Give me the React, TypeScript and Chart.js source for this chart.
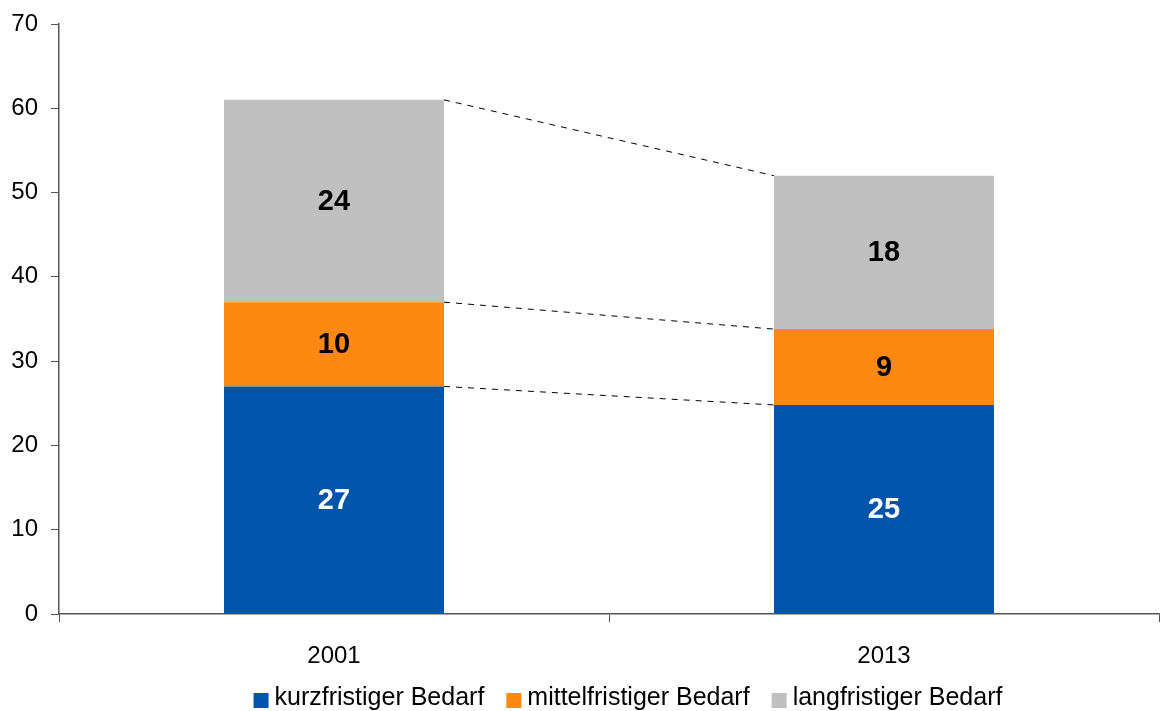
import React, { useEffect, useRef } from "react";
import { Chart, registerables } from "chart.js";

Chart.register(...registerables);

const categories = ["2001", "2013"];
const kurzfristig = [27, 24.8];
const mittelfristig = [10, 9.0];
const langfristig = [24, 18.2];
const seriesNames = ["kurzfristiger Bedarf", "mittelfristiger Bedarf", "langfristiger Bedarf"];
const seriesColors = ["#0055AA", "#FF8811", "#C0C0C0"];
const labelColors = ["#FFFFFF", "#000000", "#000000"];
const yTicks = [0, 10, 20, 30, 40, 50, 60, 70];

const FONT = "'Liberation Sans', Arial, sans-serif";

const connectorPlugin = {
  id: "connectors",
  afterDatasetsDraw(chart: any) {
    const ctx = chart.ctx;
    const n = chart.data.datasets.length;
    ctx.save();
    ctx.strokeStyle = "#000";
    ctx.lineWidth = 1;
    ctx.setLineDash([6, 6]);
    for (let d = 0; d < n; d++) {
      const meta = chart.getDatasetMeta(d);
      const a = meta.data[0];
      const b = meta.data[1];
      if (!a || !b) continue;
      ctx.beginPath();
      ctx.moveTo(a.x + a.width / 2, a.y);
      ctx.lineTo(b.x - b.width / 2, b.y);
      ctx.stroke();
    }
    ctx.setLineDash([]);
    ctx.font = `bold 29px ${FONT}`;
    ctx.textAlign = "center";
    ctx.textBaseline = "middle";
    for (let d = 0; d < n; d++) {
      const meta = chart.getDatasetMeta(d);
      const ds = chart.data.datasets[d];
      meta.data.forEach((el: any, i: number) => {
        const v = ds.data[i];
        ctx.fillStyle = labelColors[d];
        ctx.fillText(String(Math.round(v)), el.x, (el.y + el.base) / 2 + 1);
      });
    }
    ctx.restore();
  },
  afterDraw(chart: any) {
    const ctx = chart.ctx;
    ctx.save();
    ctx.font = `25px ${FONT}`;
    ctx.textBaseline = "alphabetic";
    const sq = 15;
    const gapSqText = 6;
    const gapItems = 22;
    const widths = seriesNames.map((s) => ctx.measureText(s).width);
    const total = widths.reduce((acc, w) => acc + sq + gapSqText + w, 0) + gapItems * (seriesNames.length - 1);
    let x = 628 - total / 2;
    seriesNames.forEach((s, i) => {
      ctx.fillStyle = seriesColors[i];
      ctx.fillRect(x, 693, sq, sq);
      x += sq + gapSqText;
      ctx.fillStyle = "#000";
      ctx.textAlign = "left";
      ctx.fillText(s, x, 705);
      x += widths[i] + gapItems;
    });
    ctx.restore();
  },
};

export default function App() {
  const ref = useRef<HTMLCanvasElement | null>(null);
  useEffect(() => {
    document.body.style.margin = "0";
    const canvas = ref.current!;
    const values = [kurzfristig, mittelfristig, langfristig];
    const chart = new Chart(canvas, {
      type: "bar",
      data: {
        labels: categories,
        datasets: seriesNames.map((name, i) => ({
          label: name,
          data: values[i],
          backgroundColor: seriesColors[i],
          borderWidth: 0,
          barPercentage: 0.4,
          categoryPercentage: 1,
        })),
      },
      options: {
        animation: false,
        responsive: false,
        maintainAspectRatio: false,
        layout: { padding: { top: 24, right: 1, left: 0, bottom: 0 } },
        plugins: {
          legend: { display: false },
          tooltip: { enabled: false },
        },
        scales: {
          x: {
            stacked: true,
            grid: {
              offset: true,
              drawOnChartArea: false,
              drawTicks: true,
              tickLength: 8,
              color: "#555",
              tickWidth: 1,
            },
            border: { color: "#555", width: 1.5 },
            ticks: {
              color: "#000",
              font: { family: FONT, size: 24 },
              padding: 20,
            },
            afterFit(scale: any) {
              scale.height = 97;
              scale.paddingLeft = 0;
              scale.paddingRight = 0;
            },
          },
          y: {
            stacked: true,
            min: 0,
            max: 70,
            afterBuildTicks(scale: any) {
              scale.ticks = yTicks.map((v) => ({ value: v }));
            },
            grid: {
              drawOnChartArea: false,
              drawTicks: true,
              tickLength: 8,
              color: "#555",
            },
            border: { color: "#555", width: 1.5 },
            ticks: {
              color: "#000",
              font: { family: FONT, size: 24 },
              padding: 13,
            },
            afterFit(scale: any) {
              scale.width = 59;
              scale.paddingTop = 0;
              scale.paddingBottom = 0;
            },
          },
        },
      },
      plugins: [connectorPlugin],
    });
    return () => chart.destroy();
  }, []);
  return (
    <div style={{ position: "absolute", left: 0, top: 0, width: 1160, height: 711, background: "#fff" }}>
      <canvas ref={ref} width={1160} height={711} style={{ display: "block" }} />
    </div>
  );
}
